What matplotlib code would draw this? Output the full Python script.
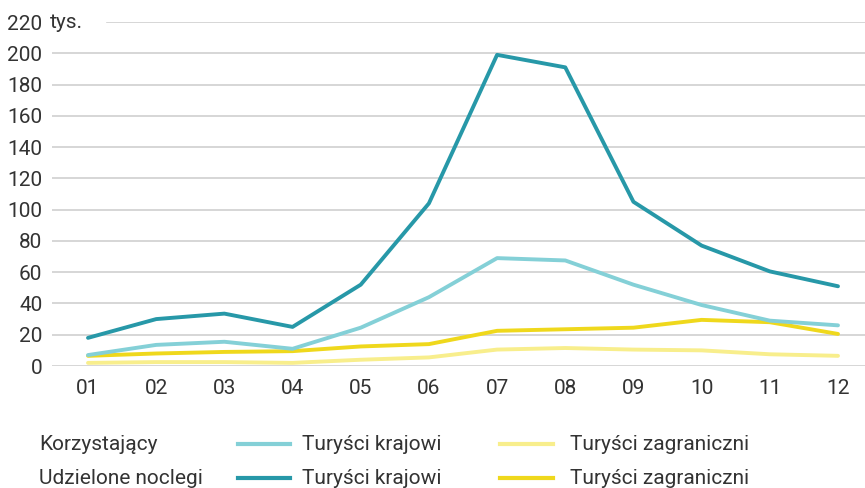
import matplotlib.pyplot as plt
from matplotlib.lines import Line2D

plt.rcParams['font.family'] = ['Roboto', 'DejaVu Sans']

months = ['01', '02', '03', '04', '05', '06', '07', '08', '09', '10', '11', '12']

# Korzystajacy (tys.)
kor_krajowi = [7, 13.5, 15.5, 11, 24.5, 44, 69, 67.5, 52, 39, 29, 26]
kor_zagraniczni = [2, 2.5, 2.5, 2, 4, 5.5, 10.5, 11.5, 10.5, 10, 7.5, 6.5]
# Udzielone noclegi (tys.)
nocl_krajowi = [18, 30, 33.5, 25, 52, 104, 199, 191, 105, 77, 60.5, 51]
nocl_zagraniczni = [6.5, 8, 9, 9.5, 12.5, 14, 22.5, 23.5, 24.5, 29.5, 28, 20.5]

yticks = [0, 20, 40, 60, 80, 100, 120, 140, 160, 180, 200, 220]

c_light_teal = '#84d0d7'
c_dark_teal = '#2798a8'
c_light_yel = '#f8ee8c'
c_yel = '#efd81c'
c_text = '#333333'
c_grid = '#d0d0d0'
fs = 15

fig = plt.figure(figsize=(8.65, 4.88), dpi=100)
ax = fig.add_axes([52 / 865, 122 / 488, 1 - 52 / 865, 344 / 488])

x = list(range(1, 13))
for v in yticks[:-1]:
    ax.axhline(v, color=c_grid, lw=1.2, zorder=0)
ax.axhline(220, xmin=55 / 813, color=c_grid, lw=1.2, zorder=0)

ax.plot(x, kor_zagraniczni, color=c_light_yel, lw=2.8, solid_capstyle='round')
ax.plot(x, nocl_zagraniczni, color=c_yel, lw=2.8, solid_capstyle='round')
ax.plot(x, kor_krajowi, color=c_light_teal, lw=2.8, solid_capstyle='round')
ax.plot(x, nocl_krajowi, color=c_dark_teal, lw=2.8, solid_capstyle='round')

ax.set_xlim(1 - 36 / 68.18, 12 + 27 / 68.18)
ax.set_ylim(0, 220)
ax.set_xticks(x)
ax.set_xticklabels(months)
ax.set_yticks(yticks)
ax.tick_params(length=0, labelsize=fs, labelcolor=c_text)
ax.tick_params(axis='y', pad=7)
ax.tick_params(axis='x', pad=9)
for s in ax.spines.values():
    s.set_visible(False)
ax.text(50 / 865, 466 / 488, 'tys.', transform=fig.transFigure, fontsize=fs,
        color=c_text, va='center', ha='left')

# legend
rows = [('Korzystający', c_light_teal, c_light_yel, 444),
        ('Udzielone noclegi', c_dark_teal, c_yel, 478)]
for label, c1, c2, ypx in rows:
    yf = (488 - ypx) / 488
    fig.text(39 / 865, yf, label, fontsize=fs, color=c_text, va='center')
    fig.add_artist(Line2D([238 / 865, 290 / 865], [yf, yf], color=c1, lw=3))
    fig.text(302 / 865, yf, 'Turyści krajowi', fontsize=fs, color=c_text, va='center')
    fig.add_artist(Line2D([500 / 865, 553 / 865], [yf, yf], color=c2, lw=3))
    fig.text(570 / 865, yf, 'Turyści zagraniczni', fontsize=fs, color=c_text, va='center')

fig.savefig('out.png', dpi=100)
